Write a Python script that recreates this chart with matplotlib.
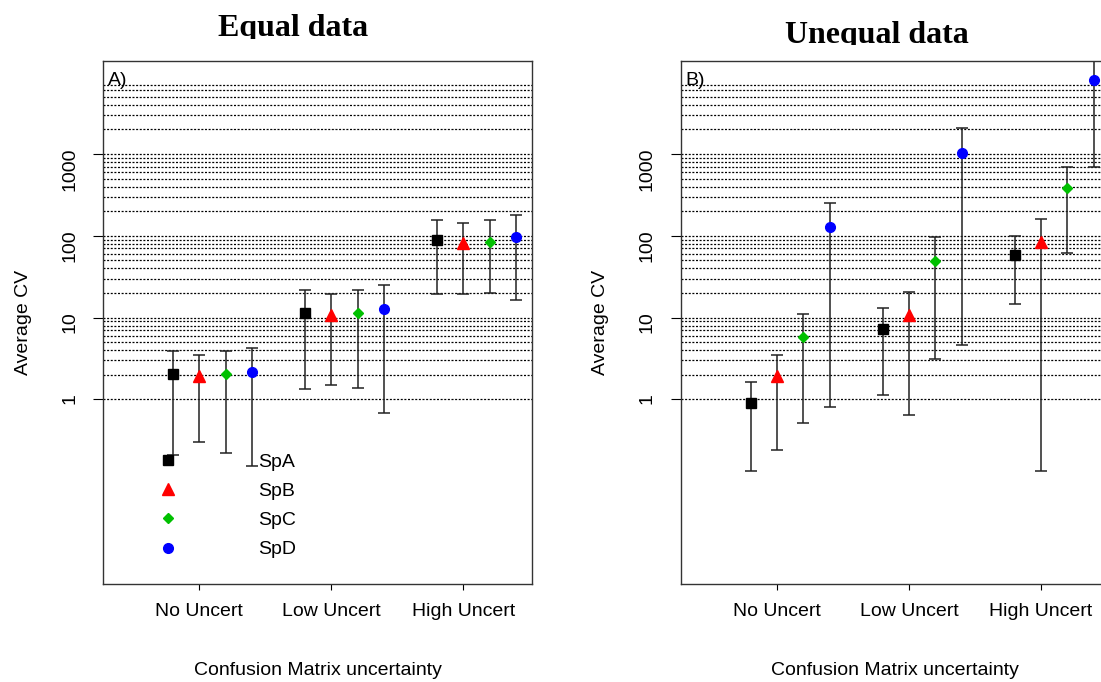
import numpy as np
import matplotlib
matplotlib.use('Agg')
from matplotlib import pyplot as plt
from matplotlib.lines import Line2D
from matplotlib.transforms import Bbox, TransformedBbox

plt.rcParams['font.family'] = ['Liberation Sans', 'DejaVu Sans']
plt.rcParams['font.size'] = 14

## data
categories = ["No Uncert", "Low Uncert", "High Uncert"]
species = ["SpA", "SpB", "SpC", "SpD"]

# panel A: equal data
spA_eq = [2.04, 11.5, 89]
spA_eq_lo = [0.209, 1.34, 19.4]
spA_eq_hi = [3.87, 21.6, 154]
spB_eq = [1.93, 10.8, 82.8]
spB_eq_lo = [0.306, 1.50, 19.4]
spB_eq_hi = [3.46, 19.3, 143]
spC_eq = [2.04, 11.4, 85]
spC_eq_lo = [0.223, 1.39, 20]
spC_eq_hi = [3.87, 21.6, 154]
spD_eq = [2.18, 12.7, 98]
spD_eq_lo = [0.155, 0.687, 16.3]
spD_eq_hi = [4.3, 24.8, 179]

# panel B: unequal data
spA_un = [0.90, 7.36, 58.7]
spA_un_lo = [0.135, 1.15, 14.7]
spA_un_hi = [1.62, 13.3, 100]
spB_un = [1.95, 10.9, 84]
spB_un_lo = [0.243, 0.65, 0.135]
spB_un_hi = [3.5, 20.3, 162]
spC_un = [5.77, 49.6, 380]
spC_un_lo = [0.51, 3.16, 62]
spC_un_hi = [11.1, 95.6, 687]
spD_un = [128, 1040, 7980]
spD_un_lo = [0.80, 4.65, 687]
spD_un_hi = [254, 2100, 20000]

# horizontal guide levels
guides = [1, 2, 3, 4, 5, 6, 7, 8, 9,
          10, 20, 30, 40, 50, 60, 70, 80, 90,
          100, 200, 300, 400, 500, 600, 700, 800, 900,
          1000, 2000, 3000, 4000, 5000, 6000, 7000]

offsets = [-0.2, 0.0, 0.2, 0.4]
colors = ["black", "red", "#00c000", "blue"]
markers = ["s", "^", "D", "o"]
msizes = [7, 8, 5, 7]

equal = [(spA_eq, spA_eq_lo, spA_eq_hi), (spB_eq, spB_eq_lo, spB_eq_hi),
         (spC_eq, spC_eq_lo, spC_eq_hi), (spD_eq, spD_eq_lo, spD_eq_hi)]
unequal = [(spA_un, spA_un_lo, spA_un_hi), (spB_un, spB_un_lo, spB_un_hi),
           (spC_un, spC_un_lo, spC_un_hi), (spD_un, spD_un_lo, spD_un_hi)]

W, H = 1101, 682
fig = plt.figure(figsize=(W/100, H/100), dpi=100)

def panel(left, series, tag, show_legend):
    ax = fig.add_axes([left/W, (H-584)/H, 429/W, 523.3/H])
    ax.set_yscale('log')
    ax.set_ylim(0.00556, 13800)
    ax.set_xlim(0.27, 3.52)
    # dotted horizontal guides
    for g in guides:
        ax.axhline(g, color='black', lw=0.9, ls=(0, (1.6, 1.3)), zorder=1)
    x = np.arange(1, 4)
    for i, (val, lo, hi) in enumerate(series):
        val = np.array(val); lo = np.array(lo); hi = np.array(hi)
        ax.errorbar(x + offsets[i], val, yerr=[val - lo, hi - val], fmt='none',
                    ecolor='#222222', elinewidth=1.1, capsize=4, capthick=1.1, zorder=2)
        ax.plot(x + offsets[i], val, ls='none', marker=markers[i], color=colors[i],
                markersize=msizes[i], zorder=3)
    ax.set_xticks(x)
    ax.set_xticklabels(categories)
    ax.set_yticks([1, 10, 100, 1000])
    ax.set_yticklabels(['1', '10', '100', '1000'])
    ax.yaxis.set_minor_locator(matplotlib.ticker.NullLocator())
    ax.tick_params(axis='y', labelrotation=90, length=7, pad=11, labelsize=14)
    ax.tick_params(axis='x', length=4, pad=10, labelsize=14)
    for s in ax.spines.values():
        s.set_linewidth(1.0)
        s.set_color('#333333')
    ax.set_xlabel("Confusion Matrix uncertainty", fontsize=14)
    ax.xaxis.set_label_coords(0.5, -0.1662)
    ax.xaxis.label.set_va('center')
    ax.set_ylabel("Average CV", fontsize=14)
    ax.yaxis.set_label_coords(-0.186, 0.5)
    ax.yaxis.label.set_va('center')
    ax.text(0.012, 0.963, tag, transform=ax.transAxes, fontsize=14, va='center', ha='left')
    if show_legend:
        handles = [Line2D([], [], ls='none', marker=markers[i], color=colors[i],
                          markersize=msizes[i]) for i in range(4)]
        ax.legend(handles, species, frameon=False, loc='upper left',
                  bbox_to_anchor=((168-103-19)/429, (584-453)/523.3),
                  handlelength=2, handletextpad=3.6, labelspacing=0.6,
                  borderpad=0, borderaxespad=0, fontsize=14)
    return ax

panel(103, equal, "A)", True)
panel(680.7, unequal, "B)", False)

## titles, cut off at the bottom like in the source image
t1 = fig.text(293/W, (H-36)/H, "Equal data", ha='center', va='baseline',
              fontsize=23, fontweight='bold', family='Liberation Serif')
t1.set_clip_box(TransformedBbox(Bbox.from_extents(0, (H-39)/H, 1, 1), fig.transFigure))
t1.set_clip_on(True)
t2 = fig.text(876.5/W, (H-43)/H, "Unequal data", ha='center', va='baseline',
              fontsize=23, fontweight='bold', family='Liberation Serif')
t2.set_clip_box(TransformedBbox(Bbox.from_extents(0, (H-45)/H, 1, 1), fig.transFigure))
t2.set_clip_on(True)

plt.savefig('out.png', dpi=100)
